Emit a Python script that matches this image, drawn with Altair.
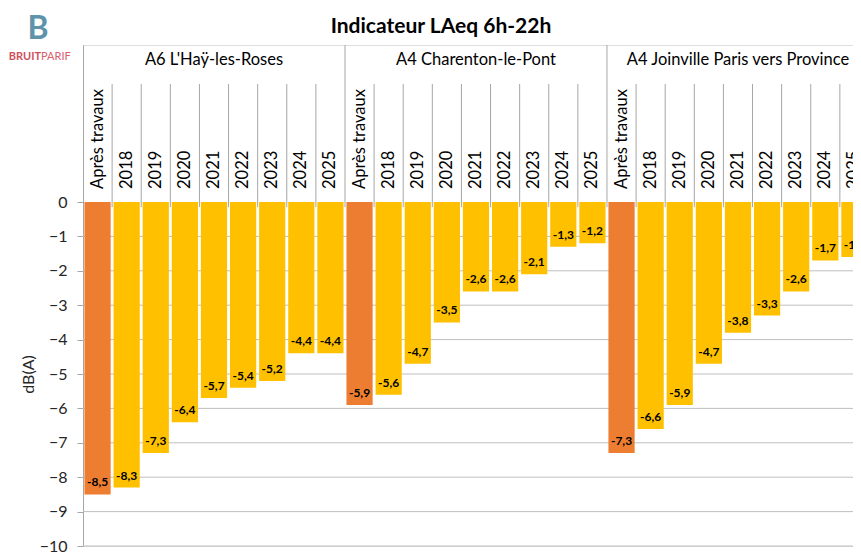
import altair as alt
import pandas as pd

# ---- data ----
groups = ["A6 L'Haÿ-les-Roses", "A4 Charenton-le-Pont", "A4 Joinville Paris vers Province"]
periods = ["Après travaux", "2018", "2019", "2020", "2021", "2022", "2023", "2024", "2025"]
values_a6 = [-8.5, -8.3, -7.3, -6.4, -5.7, -5.4, -5.2, -4.4, -4.4]
values_charenton = [-5.9, -5.6, -4.7, -3.5, -2.6, -2.6, -2.1, -1.3, -1.2]
values_joinville = [-7.3, -6.6, -5.9, -4.7, -3.8, -3.3, -2.6, -1.7, -1.6]
y_ticks = list(range(-10, 1))
grid_values = list(range(-10, 0))
chart_title = "Indicateur LAeq 6h-22h"
y_title = "dB(A)"
logo_parts = ["BRUIT", "PARIF"]

FONT = "Lato"
ORANGE = "#ED7D31"
YELLOW = "#FFC000"
LINE = "#A6A6A6"

# ---- tables ----
rows = []
for g, (grp, vals) in enumerate(zip(groups, [values_a6, values_charenton, values_joinville])):
    for p, (per, v) in enumerate(zip(periods, vals)):
        i = g * len(periods) + p
        rows.append(dict(group=grp, period=per, value=v, x0=i + 0.05, x1=i + 0.95, xc=i + 0.5,
                         kind="ref" if p == 0 else "year",
                         label=f"{v:.1f}".replace(".", ",")))
df = pd.DataFrame(rows)

n_slots = len(groups) * len(periods)
Y_TOP = 4.564      # top of header band (in y units)
CAT_TOP = 3.43     # top of category separators
TICK_BOTTOM = -0.15
sep = pd.DataFrame([dict(b=b, top=(Y_TOP if b % len(periods) == 0 else CAT_TOP), bottom=TICK_BOTTOM)
                    for b in range(n_slots + 1)])
grid_df = pd.DataFrame(dict(v=grid_values))
grp_df = pd.DataFrame(dict(group=groups, xc=[g * len(periods) + len(periods) / 2 for g in range(len(groups))]))
one_df = pd.DataFrame(dict(t=[0]))

PLOT_W = 770
xscale = alt.Scale(domain=[0, PLOT_W / 29.11], nice=False, zero=False)
yscale = alt.Scale(domain=[-10, Y_TOP], nice=False, zero=False)
yaxis = alt.Axis(values=y_ticks, format="d", grid=False, domainColor=LINE, tickColor=LINE,
                 tickSize=6, labelFontSize=16, labelPadding=10, labelColor="#262626", labelFont=FONT,
                 title=y_title, titleFontSize=16, titleFontWeight="normal", titleFont=FONT,
                 titleColor="#262626", titleX=-55, titleY=329, titleAngle=270,
                 titleAlign="center", titleBaseline="middle")


def Y(field):
    return alt.Y(field, scale=yscale, axis=yaxis)


def X(field):
    return alt.X(field, scale=xscale, axis=None)


grid = alt.Chart(grid_df).mark_rule(color="#BFBFBF", strokeWidth=1).encode(y=Y("v:Q"))

seps = alt.Chart(sep).mark_rule(color=LINE, strokeWidth=1, clip=True).encode(
    x=X("b:Q"), y=Y("bottom:Q"), y2="top:Q")

bars = alt.Chart(df).mark_bar(clip=True).encode(
    x=X("x0:Q"), x2="x1:Q", y=Y("value:Q"), y2=alt.datum(0),
    color=alt.Color("kind:N", scale=alt.Scale(domain=["ref", "year"], range=[ORANGE, YELLOW]), legend=None))

vlabels = alt.Chart(df).mark_text(font=FONT, fontSize=12, fontWeight="bold", baseline="middle",
                                  dy=-12, color="black", clip=True).encode(
    x=X("xc:Q"), y=Y("value:Q"), text="label:N")

clabels = alt.Chart(df).mark_text(font=FONT, fontSize=16.5, angle=270, align="left", baseline="middle",
                                  color="black", clip=True).encode(
    x=X("xc:Q"), y=alt.value(144), text="period:N")

glabels = alt.Chart(grp_df).mark_text(font=FONT, fontSize=16.5, baseline="middle", color="black").encode(
    x=X("xc:Q"), y=alt.value(15), text="group:N")

title_mark = alt.Chart(one_df).mark_text(font=FONT, fontSize=21, fontWeight="bold", color="black",
                                         baseline="alphabetic", align="center").encode(
    x=alt.value(358), y=alt.value(-12), text=alt.value(chart_title))

logo_icon = alt.Chart(one_df).mark_text(font=FONT, fontSize=32, fontWeight="bold", color="#5E93AA",
                                        baseline="middle", align="center").encode(
    x=alt.value(-45), y=alt.value(-16), text=alt.value("B"))
logo_a = alt.Chart(one_df).mark_text(font=FONT, fontSize=11, fontWeight="bold", color="#CF4F5B",
                                     baseline="middle", align="right").encode(
    x=alt.value(-42), y=alt.value(12), text=alt.value(logo_parts[0]))
logo_b = alt.Chart(one_df).mark_text(font=FONT, fontSize=11, color="#D8606B",
                                     baseline="middle", align="left").encode(
    x=alt.value(-42), y=alt.value(12), text=alt.value(logo_parts[1]))

chart = alt.layer(grid, seps, bars, vlabels, clabels, glabels, title_mark,
                  logo_icon, logo_a, logo_b).properties(
    width=PLOT_W, height=501,
    autosize=alt.AutoSizeParams(type="none"),
    padding={"left": 75, "top": 37, "right": 0, "bottom": 8},
).configure_view(stroke=None).configure(background="white")

chart.save("out.html", embed_options={"renderer": "svg", "actions": False})
